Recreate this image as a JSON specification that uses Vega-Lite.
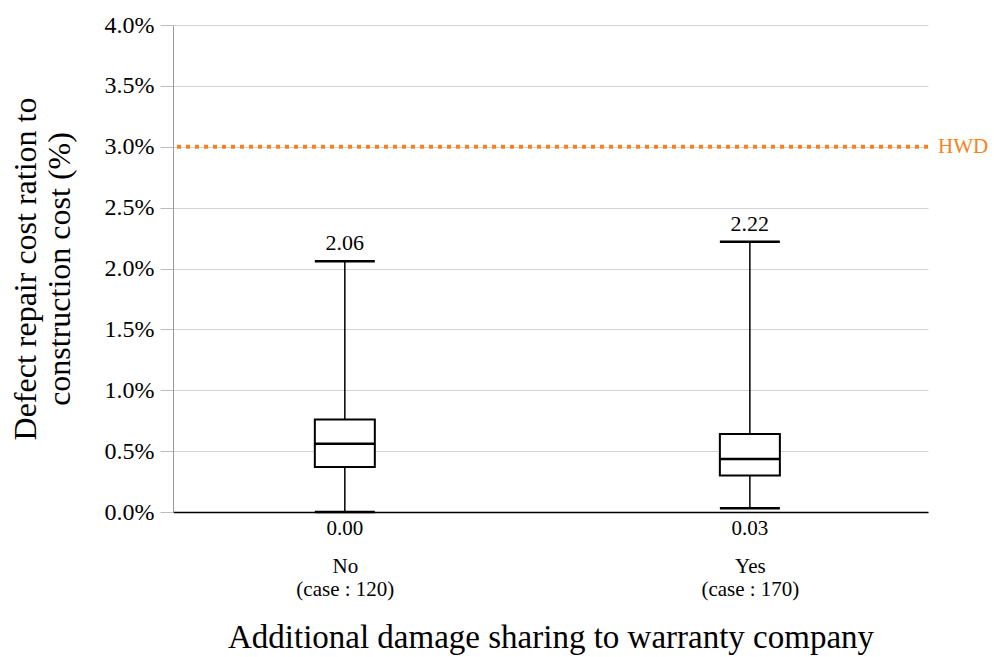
{
  "$schema": "https://vega.github.io/schema/vega-lite/v6.json",
  "width": 755,
  "height": 487,
  "autosize": {"type": "none"},
  "padding": {"left": 173, "top": 25, "right": 66, "bottom": 145},
  "background": "white",
  "config": {"view": {"stroke": null}, "font": "Liberation Serif"},
  "data": {
    "values": [
      {"group": "No", "cases": 120, "min": 0.0, "q1": 0.37, "median": 0.56, "q3": 0.76, "max": 2.06},
      {"group": "Yes", "cases": 170, "min": 0.03, "q1": 0.3, "median": 0.435, "q3": 0.64, "max": 2.22}
    ]
  },
  "layer": [
    {
      "mark": {"type": "rule", "color": "black", "strokeWidth": 1.5},
      "encoding": {
        "x": {
          "field": "group", "type": "nominal",
          "scale": {"type": "point", "padding": 0.432, "align": 0.491},
          "axis": {
            "title": "Additional damage sharing to warranty company",
            "titleFontSize": 33, "titleFontWeight": "normal", "titleColor": "black", "titlePadding": 22,
            "labelFontSize": 21, "labelColor": "black", "labelPadding": 43, "labelAngle": 0, "labelLineHeight": 23,
            "labelBaseline": "top",
            "labelExpr": "[datum.value, datum.value == 'No' ? '(case : 120)' : '(case : 170)']",
            "ticks": false, "domainColor": "black", "domainWidth": 1.5, "grid": false
          }
        },
        "y": {
          "field": "min", "type": "quantitative",
          "scale": {"domain": [0, 4], "nice": false},
          "axis": {
            "title": ["Defect repair cost ration to", "construction cost (%)"],
            "titleFontSize": 32, "titleFontWeight": "normal", "titleColor": "black", "titleLineHeight": 34, "titlePadding": 28,
            "values": [0, 0.5, 1, 1.5, 2, 2.5, 3, 3.5, 4],
            "labelExpr": "format(datum.value, '.1f') + '%'",
            "labelFontSize": 24, "labelColor": "black", "labelPadding": 6,
            "tickColor": "#bbbbbb", "tickSize": 13, "domainColor": "#999999",
            "grid": true, "gridColor": "#d3d3d3", "gridWidth": 1
          }
        },
        "y2": {"field": "max"}
      }
    },
    {
      "mark": {"type": "bar", "fill": "white", "stroke": "black", "strokeWidth": 2, "size": 60},
      "encoding": {
        "x": {"field": "group", "type": "nominal"},
        "y": {"field": "q1", "type": "quantitative"},
        "y2": {"field": "q3"}
      }
    },
    {
      "mark": {"type": "tick", "color": "black", "opacity": 1, "thickness": 2.5, "size": 60},
      "encoding": {
        "x": {"field": "group", "type": "nominal"},
        "y": {"field": "median", "type": "quantitative"}
      }
    },
    {
      "mark": {"type": "tick", "color": "black", "opacity": 1, "thickness": 2.5, "size": 60},
      "encoding": {
        "x": {"field": "group", "type": "nominal"},
        "y": {"field": "max", "type": "quantitative"}
      }
    },
    {
      "mark": {"type": "tick", "color": "black", "opacity": 1, "thickness": 2.5, "size": 60},
      "encoding": {
        "x": {"field": "group", "type": "nominal"},
        "y": {"field": "min", "type": "quantitative"}
      }
    },
    {
      "mark": {"type": "text", "fontSize": 22, "color": "black", "baseline": "bottom", "dy": -6},
      "encoding": {
        "x": {"field": "group", "type": "nominal"},
        "y": {"field": "max", "type": "quantitative"},
        "text": {"field": "max", "format": ".2f"}
      }
    },
    {
      "mark": {"type": "text", "fontSize": 21, "color": "black", "baseline": "top", "dy": 6},
      "encoding": {
        "x": {"field": "group", "type": "nominal"},
        "y": {"datum": 0},
        "text": {"field": "min", "format": ".2f"}
      }
    },
    {
      "data": {"values": [{"label": "HWD", "value": 3}]},
      "mark": {"type": "rule", "color": "#f58220", "strokeWidth": 4, "strokeDash": [4, 5]},
      "encoding": {"y": {"field": "value", "type": "quantitative"}}
    },
    {
      "data": {"values": [{"label": "HWD", "value": 3}]},
      "mark": {"type": "text", "color": "#f58220", "fontSize": 21, "align": "left", "baseline": "middle", "x": {"expr": "width"}, "dx": 10},
      "encoding": {
        "y": {"field": "value", "type": "quantitative"},
        "text": {"field": "label"}
      }
    }
  ]
}
